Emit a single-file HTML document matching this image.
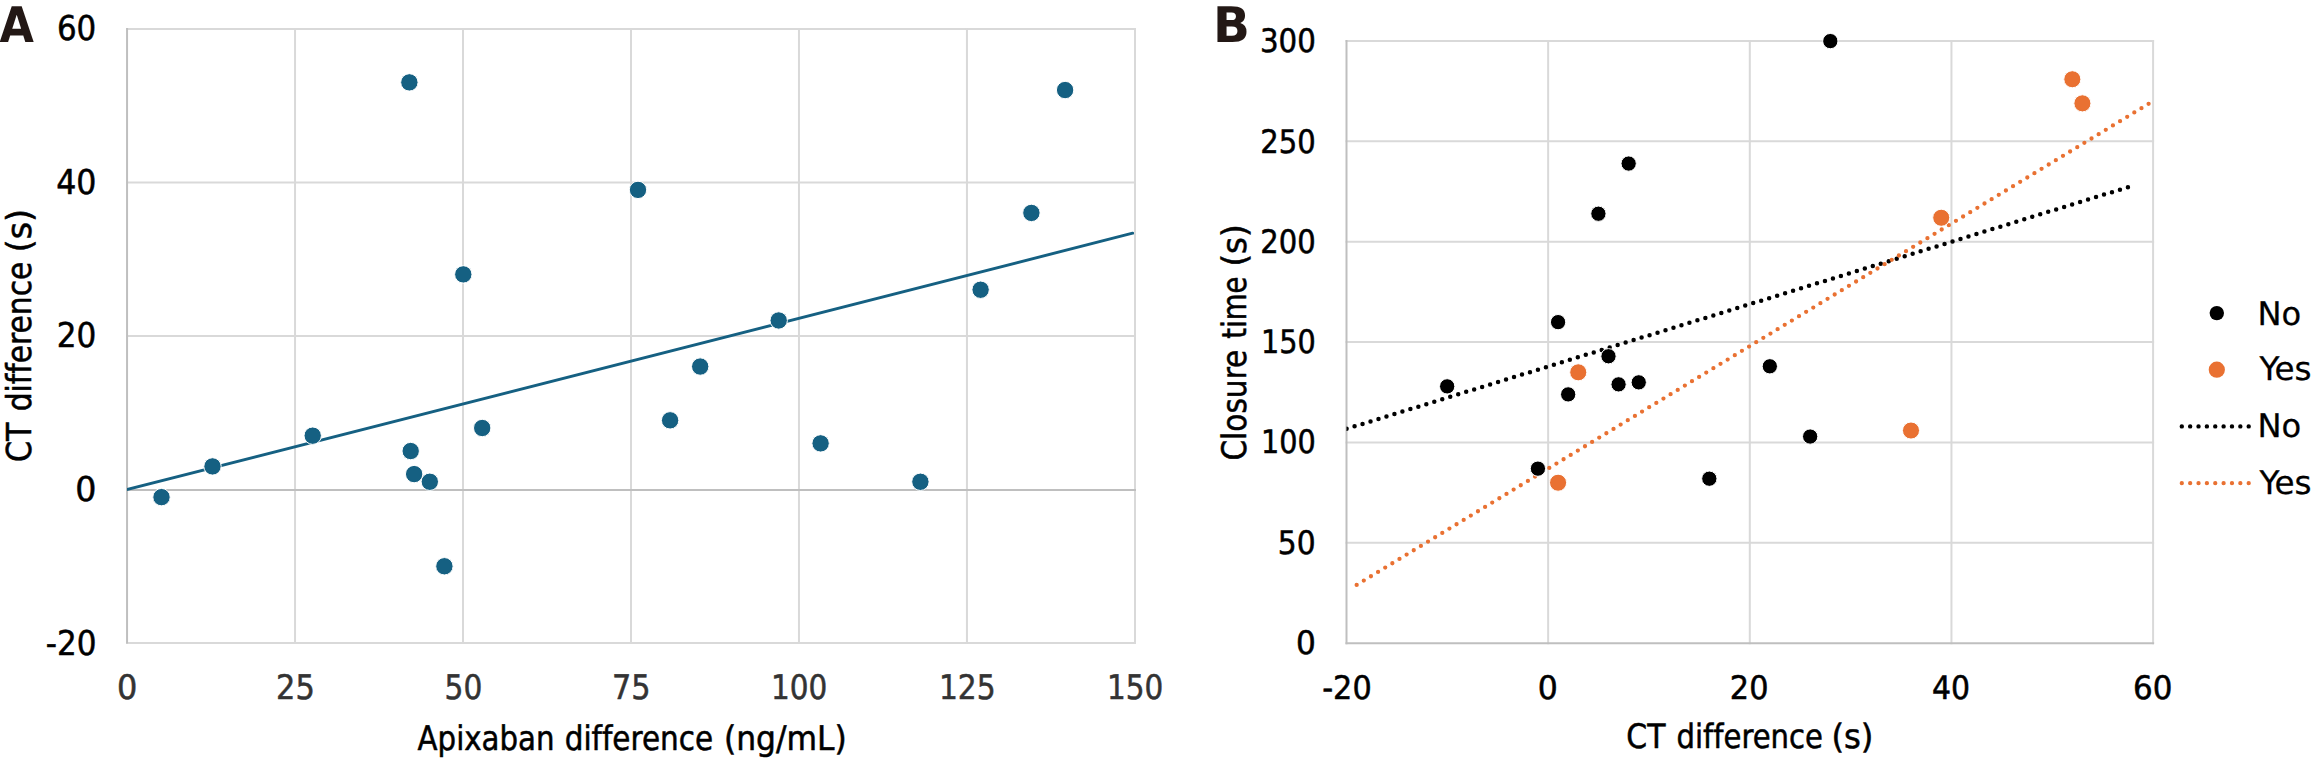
<!DOCTYPE html>
<html lang="en">
<head>
<meta charset="utf-8">
<title>Figure</title>
<style>
html,body{margin:0;padding:0;background:#fff;}
body{width:2314px;height:763px;overflow:hidden;}
svg{display:block;}
text{font-family:'DejaVu Sans Condensed','Liberation Sans',sans-serif;font-variant-ligatures:none;font-kerning:normal;stroke-linejoin:round;text-rendering:geometricPrecision;}
.b{font-weight:bold;}
.m{stroke:#fff;stroke-width:1;}
</style>
</head>
<body>
<svg width="2314" height="763" viewBox="0 0 2314 763">
<rect width="2314" height="763" fill="#fff"/>
<g id="gridA">
<line x1="126.05" y1="29.00" x2="1136.00" y2="29.00" stroke="#d9d9d9" stroke-width="2"/>
<line x1="126.05" y1="182.40" x2="1136.00" y2="182.40" stroke="#d9d9d9" stroke-width="2"/>
<line x1="126.05" y1="336.00" x2="1136.00" y2="336.00" stroke="#d9d9d9" stroke-width="2"/>
<line x1="126.05" y1="643.00" x2="1136.00" y2="643.00" stroke="#d9d9d9" stroke-width="2"/>
<line x1="295.03" y1="28.00" x2="295.03" y2="644.00" stroke="#d9d9d9" stroke-width="2"/>
<line x1="463.00" y1="28.00" x2="463.00" y2="644.00" stroke="#d9d9d9" stroke-width="2"/>
<line x1="631.00" y1="28.00" x2="631.00" y2="644.00" stroke="#d9d9d9" stroke-width="2"/>
<line x1="798.97" y1="28.00" x2="798.97" y2="644.00" stroke="#d9d9d9" stroke-width="2"/>
<line x1="966.95" y1="28.00" x2="966.95" y2="644.00" stroke="#d9d9d9" stroke-width="2"/>
<line x1="1135.00" y1="28.00" x2="1135.00" y2="644.00" stroke="#d9d9d9" stroke-width="2"/>
<line x1="126.05" y1="489.90" x2="1136.00" y2="489.90" stroke="#bfbfbf" stroke-width="2"/>
<line x1="127.05" y1="28.00" x2="127.05" y2="643.40" stroke="#bfbfbf" stroke-width="2"/>
</g>
<g id="gridB">
<line x1="1345.50" y1="41.00" x2="2154.10" y2="41.00" stroke="#d9d9d9" stroke-width="2"/>
<line x1="1345.50" y1="141.37" x2="2154.10" y2="141.37" stroke="#d9d9d9" stroke-width="2"/>
<line x1="1345.50" y1="241.73" x2="2154.10" y2="241.73" stroke="#d9d9d9" stroke-width="2"/>
<line x1="1345.50" y1="342.10" x2="2154.10" y2="342.10" stroke="#d9d9d9" stroke-width="2"/>
<line x1="1345.50" y1="442.47" x2="2154.10" y2="442.47" stroke="#d9d9d9" stroke-width="2"/>
<line x1="1345.50" y1="542.83" x2="2154.10" y2="542.83" stroke="#d9d9d9" stroke-width="2"/>
<line x1="1548.15" y1="40.00" x2="1548.15" y2="644.20" stroke="#d9d9d9" stroke-width="2"/>
<line x1="1749.80" y1="40.00" x2="1749.80" y2="644.20" stroke="#d9d9d9" stroke-width="2"/>
<line x1="1951.45" y1="40.00" x2="1951.45" y2="644.20" stroke="#d9d9d9" stroke-width="2"/>
<line x1="2153.10" y1="40.00" x2="2153.10" y2="644.20" stroke="#d9d9d9" stroke-width="2"/>
<line x1="1345.50" y1="643.20" x2="2154.10" y2="643.20" stroke="#bfbfbf" stroke-width="2"/>
<line x1="1346.50" y1="40.00" x2="1346.50" y2="644.20" stroke="#bfbfbf" stroke-width="2"/>
</g>
<defs>
<clipPath id="clipA"><rect x="127.05" y="0" width="1007.02" height="763"/></clipPath>
<clipPath id="clipB"><rect x="1346.50" y="0" width="807.60" height="763"/></clipPath>
</defs>
<g id="dataA">
<line clip-path="url(#clipA)" x1="120.00" y1="491.35" x2="1132.67" y2="233.21" stroke="#156082" stroke-width="2.9" stroke-linecap="round"/>
<circle class="m" cx="161.50" cy="497.13" r="8.7" fill="#156082"/>
<circle class="m" cx="212.50" cy="466.41" r="8.7" fill="#156082"/>
<circle class="m" cx="312.70" cy="435.68" r="8.7" fill="#156082"/>
<circle class="m" cx="482.20" cy="428.00" r="8.7" fill="#156082"/>
<circle class="m" cx="444.40" cy="566.26" r="8.7" fill="#156082"/>
<circle class="m" cx="409.37" cy="82.36" r="8.7" fill="#156082"/>
<circle class="m" cx="463.30" cy="274.38" r="8.7" fill="#156082"/>
<circle class="m" cx="638.00" cy="189.89" r="8.7" fill="#156082"/>
<circle class="m" cx="670.10" cy="420.32" r="8.7" fill="#156082"/>
<circle class="m" cx="700.20" cy="366.55" r="8.7" fill="#156082"/>
<circle class="m" cx="778.70" cy="320.47" r="8.7" fill="#156082"/>
<circle class="m" cx="820.60" cy="443.36" r="8.7" fill="#156082"/>
<circle class="m" cx="920.40" cy="481.77" r="8.7" fill="#156082"/>
<circle class="m" cx="980.60" cy="289.74" r="8.7" fill="#156082"/>
<circle class="m" cx="1065.10" cy="90.04" r="8.7" fill="#156082"/>
<circle class="m" cx="1031.40" cy="212.93" r="8.7" fill="#156082"/>
<circle class="m" cx="410.69" cy="451.04" r="8.7" fill="#156082"/>
<circle class="m" cx="414.15" cy="474.09" r="8.7" fill="#156082"/>
<circle class="m" cx="429.81" cy="481.77" r="8.7" fill="#156082"/>
</g>
<g id="dataB">
<g clip-path="url(#clipB)">
<line x1="1346.59" y1="428.84" x2="2127.97" y2="187.19" stroke="#000" stroke-width="4.50" stroke-linecap="round" stroke-dasharray="0 8.3453"/>
<line x1="1356.67" y1="584.94" x2="2148.64" y2="103.77" stroke="#e97132" stroke-width="4.30" stroke-linecap="round" stroke-dasharray="0 8.3480"/>
</g>
<circle class="m" cx="1558.08" cy="322.13" r="7.65" fill="#000"/>
<circle class="m" cx="1447.17" cy="386.36" r="7.65" fill="#000"/>
<circle class="m" cx="1608.50" cy="356.25" r="7.65" fill="#000"/>
<circle class="m" cx="1568.17" cy="394.39" r="7.65" fill="#000"/>
<circle class="m" cx="1618.58" cy="384.35" r="7.65" fill="#000"/>
<circle class="m" cx="1638.75" cy="382.35" r="7.65" fill="#000"/>
<circle class="m" cx="1537.92" cy="468.66" r="7.65" fill="#000"/>
<circle class="m" cx="1709.33" cy="478.70" r="7.65" fill="#000"/>
<circle class="m" cx="1830.32" cy="41.10" r="7.65" fill="#000"/>
<circle class="m" cx="1628.66" cy="163.55" r="7.65" fill="#000"/>
<circle class="m" cx="1598.41" cy="213.73" r="7.65" fill="#000"/>
<circle class="m" cx="1769.83" cy="366.29" r="7.65" fill="#000"/>
<circle class="m" cx="1810.16" cy="436.55" r="7.65" fill="#000"/>
<circle class="m" cx="1578.25" cy="372.31" r="8.55" fill="#e97132"/>
<circle class="m" cx="1558.08" cy="482.71" r="8.55" fill="#e97132"/>
<circle class="m" cx="2072.32" cy="79.24" r="8.55" fill="#e97132"/>
<circle class="m" cx="2082.40" cy="103.33" r="8.55" fill="#e97132"/>
<circle class="m" cx="1941.24" cy="217.75" r="8.55" fill="#e97132"/>
<circle class="m" cx="1910.99" cy="430.52" r="8.55" fill="#e97132"/>
</g>
<g id="legend">
<circle cx="2216.8" cy="313.1" r="7.2" fill="#000"/>
<circle cx="2216.8" cy="369.7" r="8.1" fill="#e97132"/>
<line x1="2181.80" y1="426.40" x2="2248.75" y2="426.40" stroke="#000" stroke-width="4.40" stroke-linecap="round" stroke-dasharray="0 8.3625"/>
<line x1="2181.80" y1="483.20" x2="2248.75" y2="483.20" stroke="#e97132" stroke-width="4.30" stroke-linecap="round" stroke-dasharray="0 8.3625"/>
</g>
<g id="labels">
<text class="b" transform="translate(0.00,42.00)" font-size="49.00" fill="#231815"><tspan x="-0.40" textLength="34.39" lengthAdjust="spacingAndGlyphs">A</tspan></text>
<text class="b" transform="translate(1217.40,42.00)" font-size="49.00" fill="#231815"><tspan x="-4.35" textLength="36.90" lengthAdjust="spacingAndGlyphs">B</tspan></text>
<text transform="translate(58.80,40.00)" font-size="34.20" fill="#000" stroke="#000" stroke-width="0.50"><tspan x="-1.85" textLength="39.34" lengthAdjust="spacingAndGlyphs">60</tspan></text>
<text transform="translate(57.70,194.00)" font-size="34.20" fill="#000" stroke="#000" stroke-width="0.50"><tspan x="-1.53" textLength="40.24" lengthAdjust="spacingAndGlyphs">40</tspan></text>
<text transform="translate(58.80,347.00)" font-size="34.20" fill="#000" stroke="#000" stroke-width="0.50"><tspan x="-2.12" textLength="39.58" lengthAdjust="spacingAndGlyphs">20</tspan></text>
<text transform="translate(77.20,501.00)" font-size="34.20" fill="#000" stroke="#000" stroke-width="0.50"><tspan x="-1.88" textLength="21.16" lengthAdjust="spacingAndGlyphs">0</tspan></text>
<text transform="translate(47.10,655.00)" font-size="34.20" fill="#000" stroke="#000" stroke-width="0.50"><tspan x="-1.39" textLength="50.71" lengthAdjust="spacingAndGlyphs">-20</tspan></text>
<text transform="translate(118.70,699.00)" font-size="33.80" fill="#333" stroke="#333" stroke-width="0.50"><tspan x="-1.71" textLength="20.35" lengthAdjust="spacingAndGlyphs">0</tspan></text>
<text transform="translate(278.10,699.00)" font-size="33.80" fill="#333" stroke="#333" stroke-width="0.50"><tspan x="-2.05" textLength="38.75" lengthAdjust="spacingAndGlyphs">25</tspan></text>
<text transform="translate(446.40,699.00)" font-size="33.80" fill="#333" stroke="#333" stroke-width="0.50"><tspan x="-1.86" textLength="37.75" lengthAdjust="spacingAndGlyphs">50</tspan></text>
<text transform="translate(614.20,699.00)" font-size="33.80" fill="#333" stroke="#333" stroke-width="0.50"><tspan x="-2.25" textLength="38.57" lengthAdjust="spacingAndGlyphs">75</tspan></text>
<text transform="translate(774.00,699.00)" font-size="33.80" fill="#333" stroke="#333" stroke-width="0.50"><tspan x="-3.10" textLength="56.29" lengthAdjust="spacingAndGlyphs">100</tspan></text>
<text transform="translate(942.00,699.00)" font-size="33.80" fill="#333" stroke="#333" stroke-width="0.50"><tspan x="-3.11" textLength="56.70" lengthAdjust="spacingAndGlyphs">125</tspan></text>
<text transform="translate(1110.00,699.00)" font-size="33.80" fill="#333" stroke="#333" stroke-width="0.50"><tspan x="-3.10" textLength="56.29" lengthAdjust="spacingAndGlyphs">150</tspan></text>
<text transform="translate(417.30,749.70)" font-size="33.90" fill="#000" stroke="#000" stroke-width="0.50"><tspan x="0.25" textLength="136.99" lengthAdjust="spacingAndGlyphs">Apixaban</tspan> <tspan x="147.41" textLength="148.39" lengthAdjust="spacingAndGlyphs">difference</tspan> <tspan x="306.67" textLength="122.81" lengthAdjust="spacingAndGlyphs">(ng/mL)</tspan></text>
<text transform="translate(31.10,460.80) rotate(-90)" font-size="34.30" fill="#000" stroke="#000" stroke-width="0.50"><tspan x="-1.32" textLength="39.43" lengthAdjust="spacingAndGlyphs">CT</tspan> <tspan x="49.50" textLength="149.62" lengthAdjust="spacingAndGlyphs">difference</tspan> <tspan x="208.54" textLength="43.29" lengthAdjust="spacingAndGlyphs">(s)</tspan></text>
<text transform="translate(1262.10,52.00)" font-size="32.40" fill="#000" stroke="#000" stroke-width="0.50"><tspan x="-2.12" textLength="55.81" lengthAdjust="spacingAndGlyphs">300</tspan></text>
<text transform="translate(1262.20,153.00)" font-size="32.40" fill="#000" stroke="#000" stroke-width="0.50"><tspan x="-1.91" textLength="55.40" lengthAdjust="spacingAndGlyphs">250</tspan></text>
<text transform="translate(1262.20,253.00)" font-size="32.40" fill="#000" stroke="#000" stroke-width="0.50"><tspan x="-1.91" textLength="55.40" lengthAdjust="spacingAndGlyphs">200</tspan></text>
<text transform="translate(1263.90,353.00)" font-size="32.40" fill="#000" stroke="#000" stroke-width="0.50"><tspan x="-3.00" textLength="54.75" lengthAdjust="spacingAndGlyphs">150</tspan></text>
<text transform="translate(1263.90,453.00)" font-size="32.40" fill="#000" stroke="#000" stroke-width="0.50"><tspan x="-3.00" textLength="54.75" lengthAdjust="spacingAndGlyphs">100</tspan></text>
<text transform="translate(1280.10,554.00)" font-size="32.40" fill="#000" stroke="#000" stroke-width="0.50"><tspan x="-2.28" textLength="37.79" lengthAdjust="spacingAndGlyphs">50</tspan></text>
<text transform="translate(1297.80,654.00)" font-size="32.40" fill="#000" stroke="#000" stroke-width="0.50"><tspan x="-1.86" textLength="19.84" lengthAdjust="spacingAndGlyphs">0</tspan></text>
<text transform="translate(1323.30,699.00)" font-size="32.40" fill="#000" stroke="#000" stroke-width="0.50"><tspan x="-1.14" textLength="49.49" lengthAdjust="spacingAndGlyphs">-20</tspan></text>
<text transform="translate(1539.80,699.00)" font-size="32.40" fill="#000" stroke="#000" stroke-width="0.50"><tspan x="-1.94" textLength="20.07" lengthAdjust="spacingAndGlyphs">0</tspan></text>
<text transform="translate(1731.70,699.00)" font-size="32.40" fill="#000" stroke="#000" stroke-width="0.50"><tspan x="-1.85" textLength="38.57" lengthAdjust="spacingAndGlyphs">20</tspan></text>
<text transform="translate(1933.10,699.00)" font-size="32.40" fill="#000" stroke="#000" stroke-width="0.50"><tspan x="-1.13" textLength="38.04" lengthAdjust="spacingAndGlyphs">40</tspan></text>
<text transform="translate(2135.00,699.00)" font-size="32.40" fill="#000" stroke="#000" stroke-width="0.50"><tspan x="-1.90" textLength="39.35" lengthAdjust="spacingAndGlyphs">60</tspan></text>
<text transform="translate(1627.60,748.00)" font-size="33.60" fill="#000" stroke="#000" stroke-width="0.50"><tspan x="-1.31" textLength="39.12" lengthAdjust="spacingAndGlyphs">CT</tspan> <tspan x="48.93" textLength="146.46" lengthAdjust="spacingAndGlyphs">difference</tspan> <tspan x="203.81" textLength="42.05" lengthAdjust="spacingAndGlyphs">(s)</tspan></text>
<text transform="translate(1245.60,459.30) rotate(-90)" font-size="33.80" fill="#000" stroke="#000" stroke-width="0.50"><tspan x="-1.29" textLength="110.90" lengthAdjust="spacingAndGlyphs">Closure</tspan> <tspan x="120.67" textLength="62.14" lengthAdjust="spacingAndGlyphs">time</tspan> <tspan x="192.69" textLength="42.28" lengthAdjust="spacingAndGlyphs">(s)</tspan></text>
<text transform="translate(2260.50,325.00)" font-size="32.50" fill="#000" stroke="#000" stroke-width="0.25"><tspan x="-3.05" textLength="43.70" lengthAdjust="spacingAndGlyphs">No</tspan></text>
<text transform="translate(2259.40,380.00)" font-size="32.50" fill="#000" stroke="#000" stroke-width="0.25"><tspan x="0.00" textLength="52.18" lengthAdjust="spacingAndGlyphs">Yes</tspan></text>
<text transform="translate(2260.50,437.00)" font-size="32.50" fill="#000" stroke="#000" stroke-width="0.25"><tspan x="-3.05" textLength="43.70" lengthAdjust="spacingAndGlyphs">No</tspan></text>
<text transform="translate(2259.40,494.00)" font-size="32.50" fill="#000" stroke="#000" stroke-width="0.25"><tspan x="0.00" textLength="52.18" lengthAdjust="spacingAndGlyphs">Yes</tspan></text>
</g>
</svg>
</body>
</html>
